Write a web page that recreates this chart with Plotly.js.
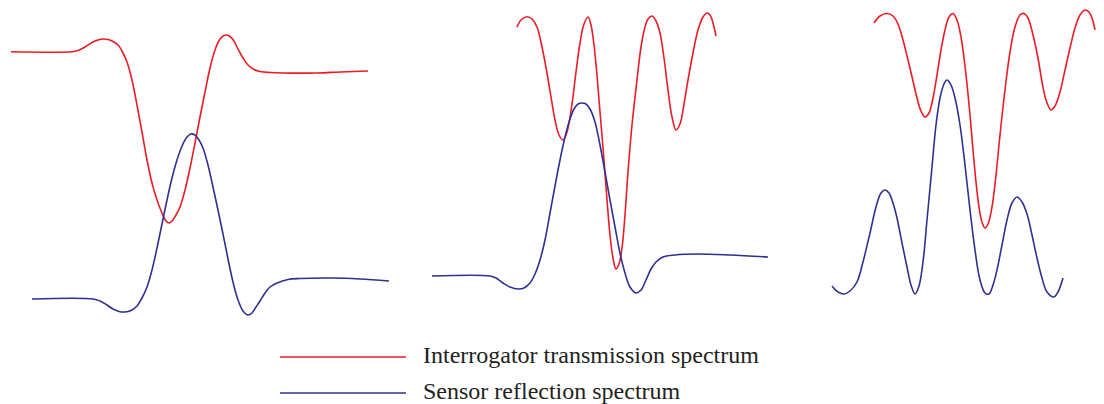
<!DOCTYPE html>
<html><head><meta charset="utf-8">
<script src="https://cdn.plot.ly/plotly-3.0.1.min.js"></script>
<style>html,body{margin:0;padding:0;background:#fff;}#chart{width:1104px;height:404px;}</style>
</head><body><div id="chart"></div>
<script>
// Panel 1 - interrogator transmission (red)
const p1RedX = [11,72,78,85,92,98,103,108,113,118,122,127,132,137,142,147,152,157,162,166,169,172,176,180,185,190,195,200,205,210,215,220,224,227,230,234,238,243,248,254,260,270,283,317,340,368];
const p1RedY = [51.7,51.7,50.5,47,42.5,40,39,39.5,41.5,45,51,62,80,105,132,160,183,200,213,221,223,221,215,207,190,168,143,117,92,68,50,39,35.5,35,36.5,41,49,58,65,69.5,71.5,72.5,73,73,72,71];
// Panel 1 - sensor reflection (blue)
const p1BlueX = [32,93,100,107,113,119,125,131,137,142,147,152,157,162,167,172,177,182,187,191,195,199,203,208,213,218,223,228,233,238,243,248,252,256,260,265,270,277,288,300,333,360,389];
const p1BlueY = [299,299,301,305,309,311.5,312,310.5,306,298,287,270,248,224,200,178,160,146,137,134,135,140,148,165,187,210,234,259,282,300,311,315,313,307,301,293,287,283,279.5,278.5,278,279,281];
// Panel 2
const p2RedX = [517,521,527,532,537,542,547,551,555,559,563,567,572,576,580,584,588,591,594,597,600,604,607,610,613,616,619,622,625,628,632,637,641,645,648,652,656,660,664,668,672,676,680,684,688,693,698,703,707,710,713,716];
const p2RedY = [27,20,16.7,19,27,47,73,97,120,135,140,132,104,72,43,24,17,25,45,75,112,160,200,235,258,269,264,248,215,172,125,80,47,27,19,16,21,33,58,90,117,130,124,104,80,53,30,17,13,15,23,36];
const p2BlueX = [432,490,496,503,510,518,524,530,535,540,545,550,555,560,565,570,574,578,582,586,590,595,600,605,610,615,620,625,630,636,641,646,651,656,663,675,697,730,768];
const p2BlueY = [276,276,278,283,287,289,288,283,274,260,240,213,186,160,137,119,109,104,103,104,109,122,145,172,200,227,253,273,287,293,290,280,269,262,257,255,254,255,257];
// Panel 3
const p3RedX = [874,880,887,893,898,903,908,913,917,921,925,929,933,937,941,945,949,953,957,961,964,967,970,973,976,979,982,985,988,992,996,1000,1005,1010,1015,1020,1024,1028,1033,1038,1042,1046,1051,1055,1060,1065,1070,1075,1080,1085,1089,1092,1095];
const p3RedY = [23,16,13.5,16,24,40,60,81,98,111,117,113,98,75,50,30,17,13.5,20,37,58,84,115,150,182,207,222,228,224,207,175,135,90,52,27,15,13.5,18,35,58,82,100,110,106,92,70,48,28,15,10,12,18,30];
const p3BlueX = [832,838,844,850,857,863,870,876,881,885,889,893,897,902,907,911,915,919,923,927,932,936,940,944,947,951,955,960,965,970,975,980,985,989,993,997,1002,1007,1012,1017,1022,1027,1032,1037,1042,1047,1054,1058,1063];
const p3BlueY = [286,292,294,291,282,262,233,207,193,190,193,203,218,243,267,285,294,286,262,220,167,125,98,84,80,85,98,125,165,210,250,280,293,294,285,270,245,220,203,197,202,214,235,258,278,292,297,292,278];

const legendNames = ["Interrogator transmission spectrum", "Sensor reflection spectrum"];
const RED = "#ed1c24", BLUE = "#2e3192";

function tr(x, y, c) {
  return {x: x, y: y, type: "scatter", mode: "lines",
    line: {color: c, width: 1.6, shape: "spline", smoothing: 1},
    hoverinfo: "skip", showlegend: false};
}
const data = [
  tr(p1RedX, p1RedY, RED), tr(p1BlueX, p1BlueY, BLUE),
  tr(p2RedX, p2RedY, RED), tr(p2BlueX, p2BlueY, BLUE),
  tr(p3RedX, p3RedY, RED), tr(p3BlueX, p3BlueY, BLUE)
];
const W = 1104, H = 404;
const layout = {
  width: W, height: H,
  margin: {l: 0, r: 0, t: 0, b: 0},
  paper_bgcolor: "#fff", plot_bgcolor: "#fff",
  xaxis: {range: [0, W], visible: false, fixedrange: true},
  yaxis: {range: [H, 0], visible: false, fixedrange: true},
  shapes: [
    {type: "line", xref: "x", yref: "y", x0: 280, x1: 406, y0: 357, y1: 357, line: {color: RED, width: 1.6}},
    {type: "line", xref: "x", yref: "y", x0: 280, x1: 406, y0: 393, y1: 393, line: {color: BLUE, width: 1.6}}
  ],
  annotations: legendNames.map((t, i) => ({
    text: t, xref: "x", yref: "y", x: 421, y: i === 0 ? 355 : 391,
    xanchor: "left", yanchor: "middle", showarrow: false,
    font: {family: "Liberation Serif, Times New Roman, serif", size: 24, color: "#231f20"}
  }))
};
Plotly.newPlot("chart", data, layout, {staticPlot: true, displayModeBar: false});
</script></body></html>
